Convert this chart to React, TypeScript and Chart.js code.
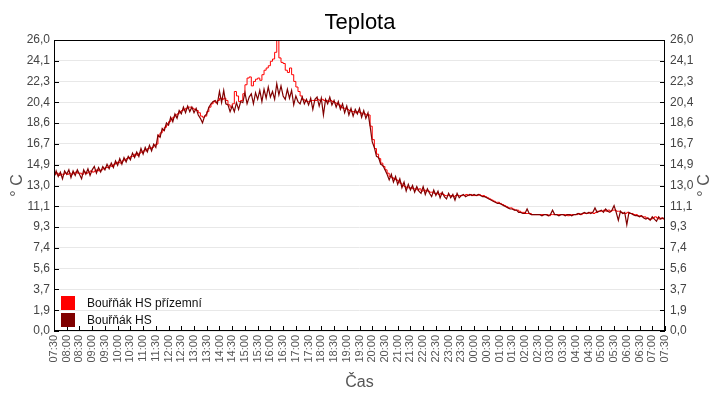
import React, { useRef, useEffect } from "react";
import { Chart, registerables } from "chart.js";

Chart.register(...registerables);

// time axis: minutes from 07:30, one value every 5 minutes
const stepMinutes = 5;

const xTickLabels = [
  "07:30", "08:00", "08:30", "09:00", "09:30", "10:00", "10:30", "11:00", "11:30", "12:00",
  "12:30", "13:00", "13:30", "14:00", "14:30", "15:00", "15:30", "16:00", "16:30", "17:00",
  "17:30", "18:00", "18:30", "19:00", "19:30", "20:00", "20:30", "21:00", "21:30", "22:00",
  "22:30", "23:00", "23:30", "00:00", "00:30", "01:00", "01:30", "02:00", "02:30", "03:00",
  "03:30", "04:00", "04:30", "05:00", "05:30", "06:00", "06:30", "07:00", "07:30",
];

const yTickLabels = [
  "0,0", "1,9", "3,7", "5,6", "7,4", "9,3", "11,1", "13,0",
  "14,9", "16,7", "18,6", "20,4", "22,3", "24,1", "26,0",
];

const seriesLabels = ["Bouřňák HS přízemní", "Bouřňák HS"];
const seriesColors = ["#ff0000", "#800000"];

const groundFloor = [
  14.0, 14.1, 13.9, 14.0, 14.0, 14.1, 14.0, 14.1, 14.0, 14.1, 14.2, 14.1,
  14.1, 14.0, 14.2, 14.1, 14.2, 14.3, 14.2, 14.3, 14.4, 14.3, 14.4, 14.5,
  14.6, 14.6, 14.8, 14.7, 14.9, 15.0, 15.1, 15.0, 15.2, 15.3, 15.4, 15.5,
  15.6, 15.6, 15.8, 15.7, 15.9, 16.0, 16.1, 16.1, 16.3, 16.3, 16.4, 16.6,
  16.7, 17.5, 17.7, 17.9, 18.2, 18.4, 18.7, 18.9, 19.1, 19.3, 19.4, 19.6,
  19.7, 19.8, 19.9, 20.0, 20.0, 19.9, 19.8, 19.7, 19.5, 19.2, 19.1, 19.2,
  19.6, 20.0, 20.3, 20.5, 20.4, 20.6, 20.8, 20.7, 20.8, 20.6, 20.2, 20.0,
  20.3, 21.4, 21.0, 20.5, 20.6, 21.2, 22.0, 22.6, 22.7, 21.9, 22.3, 22.5,
  22.6, 22.4, 22.9, 23.3, 23.5, 23.7, 24.1, 24.3, 24.9, 26.0, 24.4, 24.0,
  23.9, 23.3, 23.1, 23.5, 22.9, 22.3, 21.8, 21.4, 21.0, 20.7, 20.6, 20.5,
  20.5, 20.6, 20.6, 20.6, 20.7, 20.6, 20.7, 20.6, 20.6, 20.5, 20.6, 20.5,
  20.4, 20.3, 20.2, 20.0, 19.9, 19.9, 19.8, 19.7, 19.6, 19.6, 19.5, 19.6,
  19.5, 19.4, 19.4, 19.3, 19.3, 18.3, 17.1, 16.3, 15.8, 15.4, 15.0, 14.7,
  14.4, 14.1, 13.8, 13.7, 13.6, 13.5, 13.4, 13.2, 13.0, 12.9, 12.8, 12.8,
  12.8, 12.7, 12.7, 12.6, 12.7, 12.5, 12.6, 12.5, 12.5, 12.4, 12.4, 12.3,
  12.3, 12.2, 12.3, 12.2, 12.1, 12.1, 12.1, 12.1, 12.0, 12.1, 12.1, 12.1,
  12.1, 12.1, 12.2, 12.1, 12.2, 12.1, 12.1, 12.1, 12.2, 12.1, 12.1, 12.0,
  11.9, 11.8, 11.7, 11.6, 11.5, 11.5, 11.4, 11.3, 11.2, 11.1, 11.0, 11.0,
  10.9, 10.8, 10.8, 10.7, 10.6, 10.6, 10.5, 10.5, 10.5, 10.4, 10.4, 10.4,
  10.4, 10.4, 10.4, 10.4, 10.4, 10.3, 10.4, 10.4, 10.4, 10.4, 10.4, 10.4,
  10.4, 10.4, 10.3, 10.4, 10.4, 10.4, 10.4, 10.5, 10.4, 10.5, 10.5, 10.5,
  10.6, 10.6, 10.5, 10.6, 10.7, 10.7, 10.7, 10.8, 10.7, 10.8, 10.7, 10.8,
  10.8, 10.7, 10.7, 10.6, 10.5, 10.5, 10.6, 10.5, 10.5, 10.4, 10.4, 10.3,
  10.3, 10.2, 10.2, 10.1, 10.0, 10.0, 10.1, 10.2, 10.1, 10.0, 10.1, 10.0,
  10.1,
];

const mainHut = [
  13.7, 14.3, 13.8, 14.2, 13.6, 14.3, 14.0, 14.4, 13.7, 14.3, 13.9, 14.4,
  14.0, 13.6, 14.4, 14.0, 14.5, 13.9, 14.4, 14.7, 14.1, 14.6, 14.2, 14.7,
  14.4, 14.9, 14.5, 15.0, 14.6, 15.2, 14.8, 15.4, 14.9, 15.5, 15.1, 15.6,
  15.3, 15.9, 15.5, 16.0, 15.6, 16.3, 15.8, 16.4, 16.0, 16.6, 16.1, 16.7,
  16.4, 17.5, 17.3, 18.1, 17.9, 18.6, 18.4, 19.1, 18.7, 19.4, 19.0, 19.7,
  19.4, 20.0, 19.5, 20.1, 19.6, 20.0, 19.5, 19.9, 19.3, 19.0, 18.6, 19.2,
  19.4, 20.0, 20.3, 20.5, 20.6, 20.3, 21.4, 20.4, 21.5, 20.3, 20.2, 19.6,
  20.1, 19.6, 20.4, 19.8, 20.5, 20.4, 21.3, 20.3, 20.9, 21.2, 20.3, 21.3,
  20.7, 21.5, 20.5, 21.6, 20.8, 21.8, 20.9, 21.4, 20.7, 22.1, 21.1, 21.9,
  21.0, 20.7, 21.6, 20.8, 21.5, 20.2, 21.0, 20.5, 20.3, 20.9, 20.3, 20.7,
  20.2, 20.8, 19.8, 20.7, 20.9, 20.1, 20.8, 19.3, 20.7, 20.3, 20.9, 20.2,
  20.6, 20.0, 20.5, 19.8, 20.3, 19.5, 20.1, 19.3, 19.9, 19.2, 19.8, 19.4,
  19.9, 19.1, 19.7, 19.0, 19.5, 18.3, 16.9, 16.4, 15.6, 15.5, 14.9, 14.8,
  14.4, 14.0, 13.5, 14.0, 13.3, 13.8, 13.1, 13.6, 12.8, 13.3, 12.5, 13.1,
  12.6, 13.0, 12.4, 12.9, 12.5, 12.3, 12.9, 12.2, 12.7, 12.3, 12.0, 12.6,
  12.1, 12.5, 11.9, 12.4, 12.0, 11.8, 12.3, 11.9, 12.2, 11.7, 12.3, 11.9,
  12.1, 12.2, 12.0, 12.1, 12.2, 12.1, 12.2, 12.1, 12.2, 12.1, 12.0, 12.0,
  11.9, 11.8, 11.7, 11.6, 11.5, 11.4, 11.4, 11.3, 11.2, 11.1, 11.0, 10.9,
  10.9, 10.8, 10.8, 10.6, 10.6, 10.5, 10.5, 10.9, 10.5, 10.4, 10.4, 10.4,
  10.4, 10.4, 10.3, 10.4, 10.4, 10.3, 10.4, 10.8, 10.4, 10.4, 10.3, 10.4,
  10.4, 10.3, 10.4, 10.4, 10.3, 10.4, 10.4, 10.5, 10.4, 10.5, 10.6, 10.5,
  10.6, 10.5, 10.6, 11.0, 10.6, 10.7, 10.8, 10.6, 10.9, 10.7, 10.6, 10.8,
  11.2, 10.6, 9.9, 10.7, 10.5, 10.6, 9.5, 10.6, 10.5, 10.4, 10.3, 10.3,
  10.2, 10.3, 10.1, 10.0, 10.1, 9.9, 10.2, 10.0, 9.8, 10.2, 10.0, 10.1,
  10.0,
];

const yMax = 26;
const fontFamily = "'Liberation Sans', Arial, sans-serif";

const toPoints = (values: number[]) => values.map((v, i) => ({ x: i * stepMinutes, y: v }));

const setYTicks = (scale: any) => {
  scale.ticks = yTickLabels.map((_, i) => ({ value: (i * yMax) / (yTickLabels.length - 1) }));
};

const decorPlugin = {
  id: "decor",
  afterDraw(chart: any) {
    const { ctx, chartArea: a, scales } = chart;
    ctx.save();

    // small inward tick marks
    ctx.strokeStyle = "#000";
    ctx.lineWidth = 1;
    ctx.beginPath();
    scales.y.ticks.forEach((t: any) => {
      const y = Math.round(scales.y.getPixelForValue(t.value)) + 0.5;
      ctx.moveTo(a.left, y);
      ctx.lineTo(a.left + 5, y);
      ctx.moveTo(a.right - 5, y);
      ctx.lineTo(a.right, y);
    });
    scales.x.ticks.forEach((t: any) => {
      const x = Math.round(scales.x.getPixelForValue(t.value)) + 0.5;
      ctx.moveTo(x, a.bottom);
      ctx.lineTo(x, a.bottom - 5);
    });
    ctx.stroke();

    // plot border
    ctx.strokeRect(a.left + 0.5, a.top + 0.5, a.right - a.left - 1, a.bottom - a.top - 1);

    // title
    ctx.fillStyle = "#000";
    ctx.font = `22px ${fontFamily}`;
    ctx.textAlign = "center";
    ctx.textBaseline = "middle";
    ctx.fillText("Teplota", chart.width / 2, 23);

    // axis titles
    ctx.fillStyle = "#555";
    ctx.font = `16px ${fontFamily}`;
    ctx.fillText("Čas", (a.left + a.right) / 2, 383);
    const midY = (a.top + a.bottom) / 2;
    [18, 705].forEach((x) => {
      ctx.save();
      ctx.translate(x, midY);
      ctx.rotate(-Math.PI / 2);
      ctx.fillText("° C", 0, 0);
      ctx.restore();
    });

    // legend inside the plot
    ctx.font = `12px ${fontFamily}`;
    ctx.textAlign = "left";
    seriesLabels.forEach((label, i) => {
      const top = 296 + i * 17;
      ctx.fillStyle = seriesColors[i];
      ctx.fillRect(a.left + 7, top, 14, 14);
      ctx.fillStyle = "#111";
      ctx.fillText(label, a.left + 33, top + 8);
    });

    ctx.restore();
  },
};

const TemperatureChart: React.FC = () => {
  const canvasRef = useRef<HTMLCanvasElement | null>(null);
  const chartRef = useRef<Chart | null>(null);

  useEffect(() => {
    if (!canvasRef.current) return;
    if (chartRef.current) chartRef.current.destroy();

    const tickFont = { family: fontFamily, size: 12 };

    chartRef.current = new Chart(canvasRef.current, {
      type: "line",
      data: {
        datasets: [
          {
            label: seriesLabels[0],
            data: toPoints(groundFloor),
            borderColor: seriesColors[0],
            borderWidth: 1,
            pointRadius: 0,
            stepped: true,
            order: 2,
          },
          {
            label: seriesLabels[1],
            data: toPoints(mainHut),
            borderColor: seriesColors[1],
            borderWidth: 1.2,
            pointRadius: 0,
            tension: 0,
            order: 1,
          },
        ],
      },
      options: {
        animation: false,
        responsive: false,
        devicePixelRatio: 1,
        layout: { padding: { top: 40, left: 0, right: 0, bottom: 0 } },
        plugins: {
          legend: { display: false },
          title: { display: false },
          tooltip: { enabled: false },
        },
        scales: {
          x: {
            type: "linear",
            min: 0,
            max: (xTickLabels.length - 1) * 30,
            afterBuildTicks: (scale: any) => {
              scale.ticks = xTickLabels.map((_, i) => ({ value: i * 30 }));
            },
            afterFit: (scale: any) => {
              scale.height = 69;
            },
            grid: { display: false, drawTicks: false },
            border: { display: false },
            ticks: {
              autoSkip: false,
              maxRotation: 90,
              minRotation: 90,
              padding: 4,
              color: "#555",
              font: { family: fontFamily, size: 11 },
              callback: (_v: any, i: number) => xTickLabels[i],
            },
          },
          y: {
            position: "left",
            min: 0,
            max: yMax,
            afterBuildTicks: setYTicks,
            afterFit: (scale: any) => {
              scale.width = 54;
            },
            grid: { color: "#e8e8e8", drawTicks: false },
            border: { display: false },
            ticks: {
              padding: 4,
              color: "#444",
              font: tickFont,
              callback: (_v: any, i: number) => yTickLabels[i],
            },
          },
          y2: {
            position: "right",
            min: 0,
            max: yMax,
            afterBuildTicks: setYTicks,
            afterFit: (scale: any) => {
              scale.width = 55;
            },
            grid: { display: false, drawTicks: false },
            border: { display: false },
            ticks: {
              padding: 5,
              color: "#444",
              font: tickFont,
              callback: (_v: any, i: number) => yTickLabels[i],
            },
          },
        },
      },
      plugins: [decorPlugin],
    } as any);

    return () => {
      if (chartRef.current) {
        chartRef.current.destroy();
        chartRef.current = null;
      }
    };
  }, []);

  return (
    <div style={{ position: "absolute", left: 0, top: 0, width: 720, height: 400, background: "#fff" }}>
      <canvas ref={canvasRef} width={720} height={400}></canvas>
    </div>
  );
};

export default function App() {
  return <TemperatureChart />;
}
